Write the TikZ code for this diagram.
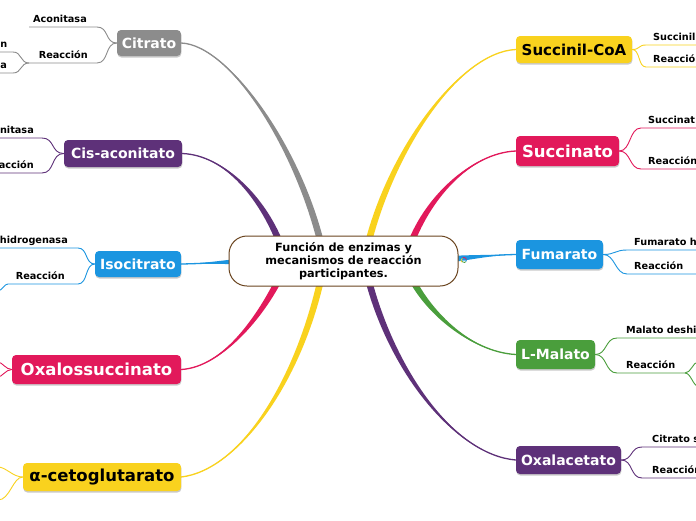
\documentclass[tikz,border=0pt]{standalone}
\usepackage{fontspec}
\setmainfont{DejaVu Sans}
\usetikzlibrary{calc,shadows,backgrounds}
\definecolor{cgray}{HTML}{8C8C8C}
\definecolor{cpurple}{HTML}{5E3179}
\definecolor{cblue}{HTML}{1B95E0}
\definecolor{ccrim}{HTML}{E2195B}
\definecolor{cyel}{HTML}{F9D21E}
\definecolor{cgreen}{HTML}{4A9E3C}
\definecolor{cbrown}{HTML}{6B4520}
% tapered connector: colour, start A, control C1, control C2, end B
\newcommand{\taper}[5]{%
  \coordinate (tp1) at ($(#5)!3.3pt!90:(#4)$);
  \coordinate (tp2) at ($(#5)!3.3pt!-90:(#4)$);
  \fill[#1] (#2) .. controls (#3) and ($(#4)+(tp1)-(#5)$) .. (tp1) -- (tp2) .. controls ($(#4)+(tp2)-(#5)$) and (#3) .. (#2) -- cycle;
  \draw[#1, line width=1.3pt] (#2) .. controls (#3) and (#4) .. (#5);
}
\tikzset{
  mainbox/.style={rounded corners=4pt, inner xsep=0pt, inner ysep=0pt, text=white,
    font=\bfseries\fontsize{14}{16}\selectfont,
    drop shadow={opacity=0.35, shadow xshift=0.4pt, shadow yshift=-1.5pt, fill=black!60}},
  sl/.style={inner sep=0pt, font=\bfseries\fontsize{9.7}{11}\selectfont, text=black},
  sb/.style={line width=0.9pt},
}
\begin{document}
\begin{tikzpicture}[x=1pt, y=-1pt]
\useasboundingbox (0,0) rectangle (696,520);
\clip (0,0) rectangle (696,520);
\begin{pgfonlayer}{background}
  \fill[white] (0,0) rectangle (696,520);
\end{pgfonlayer}

% central node
\node[draw=cbrown, line width=1pt, fill=white, rounded corners=18pt,
      minimum width=229pt, minimum height=50pt, inner sep=0pt, align=center,
      font=\bfseries\fontsize{11.3}{13.3}\selectfont] (ctr) at (343.5,261)
  {Función de enzimas y\\mecanismos de reacción\\participantes.};

% main nodes
\node[mainbox, fill=cgray, minimum width=64pt, minimum height=26pt] (cit) at (149,43) {Citrato};
\node[mainbox, fill=cpurple, minimum width=118pt, minimum height=27pt] (cis) at (123,153.5) {Cis-aconitato};
\node[mainbox, fill=cblue, minimum width=86pt, minimum height=26pt] (iso) at (138,264) {Isocitrato};
\node[mainbox, fill=ccrim, minimum width=169pt, minimum height=29pt, font=\bfseries\fontsize{16.5}{18}\selectfont] (oxs) at (96.5,369.5) {Oxalossuccinato};
\node[mainbox, fill=cyel, text=black, minimum width=158pt, minimum height=28pt, font=\bfseries\fontsize{16.5}{18}\selectfont] (akg) at (102,477) {α-cetoglutarato};
\node[mainbox, fill=cyel, text=black, minimum width=116pt, minimum height=27pt, font=\bfseries\fontsize{15}{17}\selectfont] (suc) at (574,49.5) {Succinil-CoA};
\node[mainbox, fill=ccrim, minimum width=103pt, minimum height=30pt, font=\bfseries\fontsize{16.5}{18}\selectfont] (sct) at (567.5,151) {Succinato};
\node[mainbox, fill=cblue, minimum width=87pt, minimum height=29pt] (fum) at (559.5,254.5) {Fumarato};
\node[mainbox, fill=cgreen, minimum width=79pt, minimum height=29pt] (mal) at (555.5,354.5) {L-Malato};
\node[mainbox, fill=cpurple, minimum width=105pt, minimum height=28pt] (oxa) at (568.5,460) {Oxalacetato};

% end points of the thick connectors, hidden behind the central node
\coordinate (bcit) at ($(ctr)+(-21,-11)$);
\coordinate (bcis) at ($(ctr)+(-61,-11)$);
\coordinate (biso) at ($(ctr)+(-83,0)$);
\coordinate (boxs) at ($(ctr)+(-61,11)$);
\coordinate (bakg) at ($(ctr)+(-21,11)$);
\coordinate (bsuc) at ($(ctr)+(23,-11)$);
\coordinate (bsct) at ($(ctr)+(65,-11)$);
\coordinate (bfum) at ($(ctr)+(97,-1)$);
\coordinate (bmal) at ($(ctr)+(65,11)$);
\coordinate (boxa) at ($(ctr)+(23,11)$);

\begin{pgfonlayer}{background}
  \taper{cgray}{cit.east}{230,45}{300,150}{bcit}
  \taper{cpurple}{cis.east}{225,155}{265,200}{bcis}
  \taper{cblue}{iso.east}{210,263.5}{235,261}{biso}
  \taper{ccrim}{oxs.east}{225,367}{265,310}{boxs}
  \taper{cyel}{akg.east}{240,470}{300,380}{bakg}
  \taper{cyel}{suc.west}{460,52}{390,150}{bsuc}
  \taper{ccrim}{sct.west}{470,153}{425,200}{bsct}
  \taper{cblue}{fum.west}{490,255}{465,258}{bfum}
  \taper{cgreen}{mal.west}{470,352}{425,310}{bmal}
  \taper{cpurple}{oxa.west}{455,455}{390,370}{boxa}
\end{pgfonlayer}

% small icon beside the central node
\draw[ccrim, line width=0.8pt] (466.5,260) arc[start angle=0, end angle=120, radius=2.5pt];
\draw[cyel, line width=0.8pt] (462.25,258.3) arc[start angle=120, end angle=220, radius=2.5pt];
\draw[cgreen, line width=0.8pt] (462.1,261.6) arc[start angle=220, end angle=320, radius=2.5pt];
\draw[cblue, line width=0.8pt] (465.9,261.6) arc[start angle=320, end angle=360, radius=2.5pt] -- (464,260);

% ---- Citrato
\node[sl, anchor=base east] (aco) at (87,22) {Aconitasa};
\coordinate (aco-l) at (29,27); \coordinate (aco-r) at (97,27);
\node[sl, anchor=base east] (rea1) at (88,58) {Reacción};
\coordinate (rea1-l) at (29,63); \coordinate (rea1-r) at (97,63);
\draw[cgray, sb] (aco-l) -- (aco-r) .. controls +(12,0) and +(-12,0) .. (cit.west);
\draw[cgray, sb] (rea1-l) -- (rea1-r) .. controls +(12,0) and +(-12,0) .. (cit.west);
\node[sl, anchor=base east] (g1) at (7.5,47) {n};
\coordinate (g1-l) at (-2,52); \coordinate (g1-r) at (13,52);
\node[sl, anchor=base east] (g2) at (7,68) {a};
\coordinate (g2-l) at (-2,73); \coordinate (g2-r) at (13,73);
\draw[cgray, sb] (g1-l) -- (g1-r) .. controls +(9,0) and +(-9,0) .. (rea1-l);
\draw[cgray, sb] (g2-l) -- (g2-r) .. controls +(9,0) and +(-9,0) .. (rea1-l);

% ---- Cis-aconitato
\node[sl, anchor=base east] (aco2) at (34,133) {nitasa};
\coordinate (aco2-l) at (-2,138); \coordinate (aco2-r) at (42,138);
\node[sl, anchor=base east] (rea2) at (34,168) {acción};
\coordinate (rea2-l) at (-2,173); \coordinate (rea2-r) at (42,173);
\draw[cpurple, sb] (aco2-l) -- (aco2-r) .. controls +(13,0) and +(-13,0) .. (cis.west);
\draw[cpurple, sb] (rea2-l) -- (rea2-r) .. controls +(13,0) and +(-13,0) .. (cis.west);

% ---- Isocitrato
\node[sl, anchor=base east] (idh) at (68,243) {hidrogenasa};
\coordinate (idh-l) at (-2,248); \coordinate (idh-r) at (78,248);
\node[sl, anchor=base east] (rea3) at (65,279) {Reacción};
\coordinate (rea3-l) at (8,284); \coordinate (rea3-r) at (78,284);
\coordinate (rea3-x) at (-2,291);
\draw[cblue, sb] (idh-l) -- (idh-r) .. controls +(10,0) and +(-10,0) .. (iso.west);
\draw[cblue, sb] (rea3-x) .. controls +(5,-1) and +(-4,0) .. (rea3-l) -- (rea3-r) .. controls +(10,0) and +(-10,0) .. (iso.west);

% ---- Oxalossuccinato (children off the picture)
\coordinate (oxs-a) at (-2,362); \coordinate (oxs-b) at (-2,377);
\draw[ccrim, sb] (oxs.west) .. controls +(-6,0) and +(4,0) .. (oxs-a);
\draw[ccrim, sb] (oxs.west) .. controls +(-6,0) and +(4,0) .. (oxs-b);

% ---- alpha-cetoglutarato (children off the picture)
\coordinate (akg-a) at (-2,467); \coordinate (akg-b) at (-2,500);
\draw[cyel, sb] (akg.west) .. controls +(-10,0) and +(8,0) .. (akg-a);
\draw[cyel, sb] (akg.west) .. controls +(-10,0) and +(12,0) .. (akg-b);

% ---- Succinil-CoA
\node[sl, anchor=base west] (scs) at (653,40) {Succinil};
\coordinate (scs-l) at (646,45); \coordinate (scs-r) at (698,45);
\node[sl, anchor=base west] (rea4) at (653,62) {Reacción};
\coordinate (rea4-l) at (646,67); \coordinate (rea4-r) at (698,67);
\draw[cyel, sb] (suc.east) .. controls +(8,0) and +(-8,0) .. (scs-l) -- (scs-r);
\draw[cyel, sb] (suc.east) .. controls +(8,0) and +(-8,0) .. (rea4-l) -- (rea4-r);

% ---- Succinato
\node[sl, anchor=base west] (sdh) at (648,123) {Succinat};
\coordinate (sdh-l) at (641,128); \coordinate (sdh-r) at (698,128);
\node[sl, anchor=base west] (rea5) at (648,164) {Reacción};
\coordinate (rea5-l) at (641,169); \coordinate (rea5-r) at (698,169);
\draw[ccrim, sb] (sct.east) .. controls +(12,0) and +(-12,0) .. (sdh-l) -- (sdh-r);
\draw[ccrim, sb] (sct.east) .. controls +(12,0) and +(-12,0) .. (rea5-l) -- (rea5-r);

% ---- Fumarato
\node[sl, anchor=base west] (fh) at (634,245) {Fumarato h};
\coordinate (fh-l) at (627,250); \coordinate (fh-r) at (698,250);
\node[sl, anchor=base west] (rea6) at (634,269) {Reacción};
\coordinate (rea6-l) at (627,274); \coordinate (rea6-r) at (698,274);
\draw[cblue, sb] (fum.east) .. controls +(12,0) and +(-12,0) .. (fh-l) -- (fh-r);
\draw[cblue, sb] (fum.east) .. controls +(12,0) and +(-12,0) .. (rea6-l) -- (rea6-r);

% ---- L-Malato
\node[sl, anchor=base west] (mdh) at (626,333) {Malato deshi};
\coordinate (mdh-l) at (617,338); \coordinate (mdh-r) at (698,338);
\node[sl, anchor=base west] (rea7) at (626,368) {Reacción};
\coordinate (rea7-l) at (617,373); \coordinate (rea7-r) at (685,373);
\coordinate (mal-a) at (698,362); \coordinate (mal-b) at (698,386);
\draw[cgreen, sb] (mal.east) .. controls +(12,0) and +(-12,0) .. (mdh-l) -- (mdh-r);
\draw[cgreen, sb] (mal.east) .. controls +(12,0) and +(-12,0) .. (rea7-l) -- (rea7-r);
\draw[cgreen, sb] (rea7-r) .. controls +(6,0) and +(-5,0) .. (mal-a);
\draw[cgreen, sb] (rea7-r) .. controls +(6,0) and +(-5,0) .. (mal-b);

% ---- Oxalacetato
\node[sl, anchor=base west] (cs) at (652,442) {Citrato s};
\coordinate (cs-l) at (642,447); \coordinate (cs-r) at (698,447);
\node[sl, anchor=base west] (rea8) at (652,473) {Reacción};
\coordinate (rea8-l) at (642,478); \coordinate (rea8-r) at (698,478);
\draw[cpurple, sb] (oxa.east) .. controls +(12,0) and +(-12,0) .. (cs-l) -- (cs-r);
\draw[cpurple, sb] (oxa.east) .. controls +(12,0) and +(-12,0) .. (rea8-l) -- (rea8-r);
\end{tikzpicture}
\end{document}
